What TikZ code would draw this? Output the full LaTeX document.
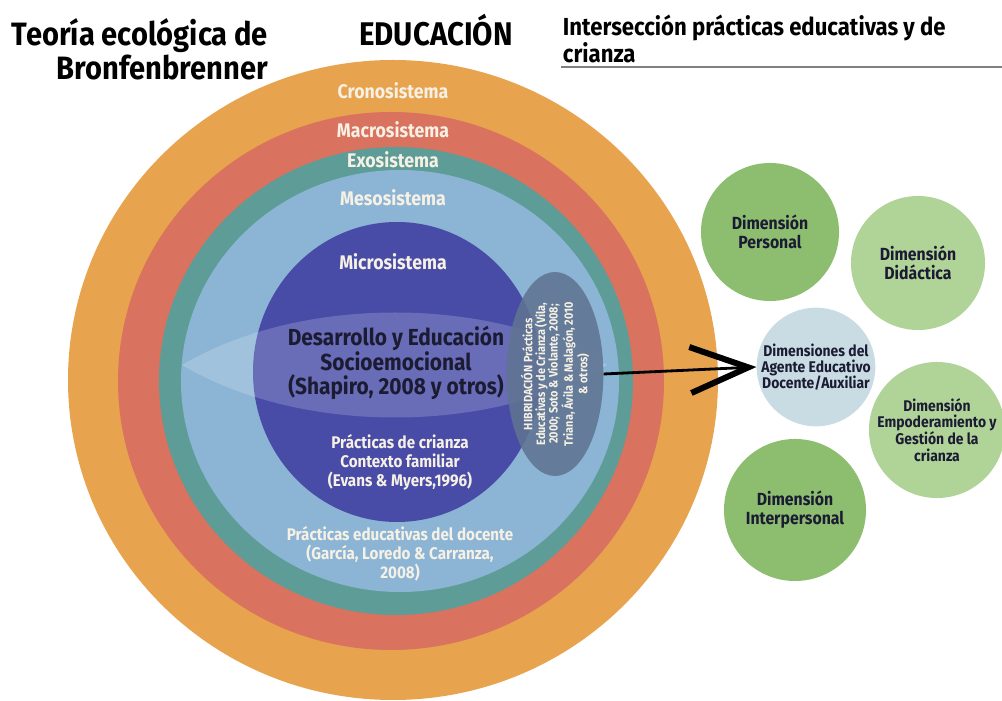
\documentclass[tikz,border=0pt]{standalone}
\usepackage{fontspec}
\setmainfont{Fira Sans}[FakeStretch=0.9]
\usepackage{xcolor}
\usetikzlibrary{shapes.geometric,arrows.meta}

\definecolor{cronos}{HTML}{E8A34F}
\definecolor{macro}{HTML}{D9725E}
\definecolor{exo}{HTML}{5E9D97}
\definecolor{meso}{HTML}{8CB5D5}
\definecolor{micro}{HTML}{484CA7}
\definecolor{hibrido}{HTML}{5F7391}
\definecolor{crema}{HTML}{F6F1E4}
\definecolor{tinta}{HTML}{1B1B33}
\definecolor{verdeA}{HTML}{8DBE70}
\definecolor{verdeB}{HTML}{B0D398}
\definecolor{gris}{HTML}{C9DCE3}

\begin{document}
\begin{tikzpicture}[x=0.025cm,y=-0.025cm,
  anillo/.style={font=\bfseries\fontsize{14}{15}\selectfont,text=crema},
  cita/.style={font=\bfseries\fontsize{12}{13.4}\selectfont,text=crema,align=center},
  dim/.style={circle,inner sep=0pt,align=center,text=tinta,font=\bfseries\fontsize{12.5}{13.5}\selectfont},
  flecha/.style={line width=0.07cm,-{Straight Barb[length=1.45cm,width=1.15cm,line width=0.15cm]}}]
\useasboundingbox (0,0) rectangle (1002,701);

\draw (273,14) node[anchor=north east,align=right,font=\bfseries\fontsize{23}{23.5}\selectfont](titulo) {Teoría ecológica de\\Bronfenbrenner};
\draw (436,30) node[font=\bfseries\fontsize{23.3}{24}\selectfont](educ) {EDUCACIÓN};
\draw (558,10) node[anchor=north west,align=left,font=\bfseries\fontsize{17.5}{14}\selectfont](inter) {Intersección prácticas educativas y de\\crianza};
\draw[gray,line width=0.03cm] (561,67) -- (1002,67);

\fill[cronos] (393,380) ellipse [x radius=325,y radius=320];
\fill[macro] (391,381) ellipse [x radius=273,y radius=269];
\fill[exo] (396,381) ellipse [x radius=237,y radius=234];
\fill[meso] (400,381) ellipse [x radius=219,y radius=211];
\fill[micro] (397,372) ellipse [x radius=144,y radius=150];
\fill[white,fill opacity=0.18] (182,365) .. controls (300,295) and (490,295) .. (607,365) .. controls (490,435) and (300,435) .. cycle;

\draw (393,91) node[anillo](crono) {Cronosistema};
\draw (393,130) node[anillo](macrotxt) {Macrosistema};
\draw (393,160) node[anillo](exotxt) {Exosistema};
\draw (393,198) node[anillo](mesotxt) {Mesosistema};
\draw (393,262) node[anillo](microtxt) {Microsistema};

\draw (396,363) node[align=center,text=tinta,font=\bfseries\fontsize{16.5}{17.5}\selectfont](desarrollo) {Desarrollo y Educación\\Socioemocional\\(Shapiro, 2008 y otros)};
\draw (400,462) node[cita](crianza) {Prácticas de crianza\\Contexto familiar\\(Evans \& Myers,1996)};
\draw (400,554) node[cita](docente) {Prácticas educativas del docente\\(García, Loredo \& Carranza,\\2008)};

\draw (555,374) node[ellipse,rotate=90,fill=hibrido,fill opacity=0.88,text opacity=1,text=crema,inner sep=0pt,minimum width=4.25cm,minimum height=1.6cm,align=center,font=\bfseries\fontsize{8.6}{9}\selectfont](hib) {HIBRIDACIÓN Prácticas\\Educativas y de Crianza (Vila,\\2000; Soto \& Violante, 2008;\\Triana, Ávila \& Malagón, 2010\\\& otros)};

\draw (770,232) node[dim,fill=verdeA,minimum size=3.45cm](personal) {Dimensión\\Personal};
\draw (918,263) node[dim,fill=verdeB,minimum size=3.35cm](didactica) {Dimensión\\Didáctica};
\draw (816,367) node[dim,fill=gris,minimum size=2.9cm,font=\bfseries\fontsize{11}{11.5}\selectfont](agente) {Dimensiones del\\Agente Educativo\\Docente/Auxiliar};
\draw (937,430) node[dim,fill=verdeB,minimum size=3.4cm,font=\bfseries\fontsize{11}{12}\selectfont](empodera) {Dimensión\\Empoderamiento y\\Gestión de la\\crianza};
\draw (795,510) node[dim,fill=verdeA,minimum size=3.55cm](interp) {Dimensión\\Interpersonal};

\draw[flecha] (hib.south) -- (agente.west);
\end{tikzpicture}
\end{document}
